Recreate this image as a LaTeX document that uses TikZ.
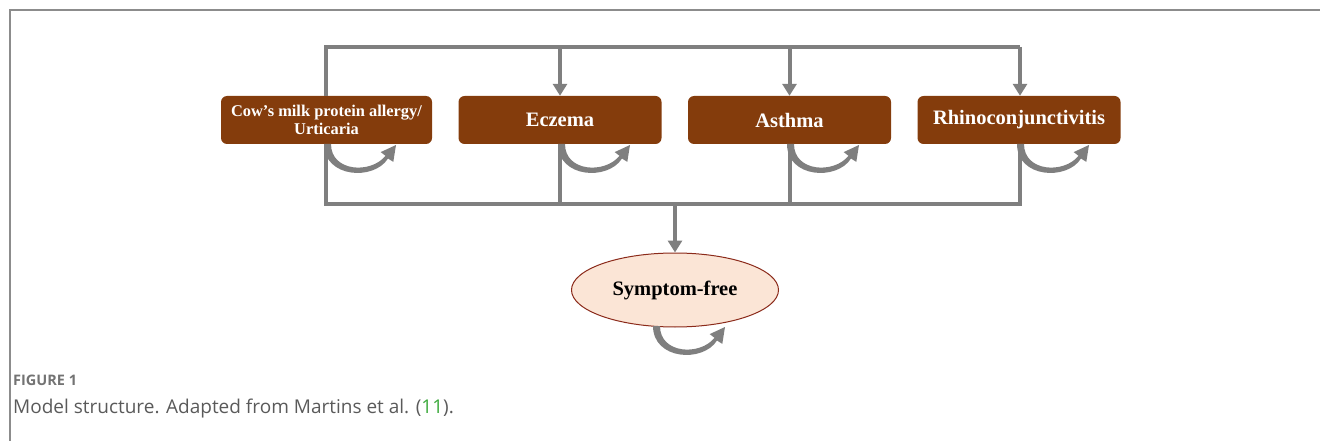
\documentclass[tikz,border=0pt]{standalone}
\usepackage{fontspec}
\setmainfont{Liberation Serif}
\newfontfamily\capfont{Open Sans}
\usetikzlibrary{arrows.meta,shapes.geometric}
\definecolor{boxbrown}{HTML}{843C0C}
\definecolor{linegray}{HTML}{7F7F7F}
\definecolor{ellfill}{HTML}{FBE5D6}
\definecolor{ellline}{HTML}{8B2A1A}
\definecolor{capgray}{HTML}{5A5A5A}
\definecolor{capgreen}{HTML}{3DAA3D}
\tikzset{
  statebox/.style={draw=none, fill=boxbrown, rounded corners=6pt, minimum width=203pt, minimum height=48pt,
    text=white, font=\bfseries\fontsize{20.5}{22}\selectfont, align=center, inner sep=0pt},
  conn/.style={draw=linegray, line width=4pt},
  connarrow/.style={conn, -{Triangle[width=14pt,length=12pt]}},
  loopshape/.style={fill=linegray, draw=none},
  pics/selfloop/.style={code={
    \path[loopshape] (0,0) .. controls (0,34) and (50,37) .. (64,14.5) -- (69.3,17.9) -- (72,1) -- (56.7,8.1) -- (61.5,11.8) .. controls (47,30) and (7,28) .. (7,0) -- cycle;
  }}
}
\begin{document}
\begin{tikzpicture}[x=1pt,y=-1pt]
\useasboundingbox (0,0) rectangle (1320,441);
% frame
\draw[linegray!90, line width=2pt] (10,441) -- (10,10) -- (1320,10);

% nodes
\node[statebox, minimum width=211pt, font=\bfseries\fontsize{16.4}{18}\selectfont] (cmpa) at (326.5,120) {Cow's milk protein allergy/\\Urticaria};
\node[statebox] (ecz) at (560,120) {Eczema};
\node[statebox] (ast) at (789.5,120) {Asthma};
\node[statebox] (rhi) at (1019,120) {Rhinoconjunctivitis};
\node[ellipse, draw=ellline, line width=1pt, fill=ellfill, minimum width=207pt, minimum height=74pt,
  font=\bfseries\fontsize{20.5}{22}\selectfont, inner sep=0pt] (sf) at (675,290) {Symptom-free};

% connector coordinates
\coordinate (tl) at (326,47);
\coordinate (tr) at (1020,47);
\coordinate (bl) at (326,204);
\coordinate (br) at (1020,204);
\coordinate (bm) at (675,204);

% top bus
\draw[conn] (cmpa.north -| tl) -- (tl) -- (tr);
\draw[connarrow] (tl -| ecz.north) -- (ecz.north);
\draw[connarrow] (tl -| ast.north) -- (ast.north);
\draw[connarrow] (tr) -- (rhi.north -| tr);
% bottom bus
\draw[conn] (cmpa.south -| bl) -- (bl) -- (br) -- (rhi.south -| br);
\draw[conn] (ecz.south) -- (ecz.south |- bl);
\draw[conn] (ast.south) -- (ast.south |- bl);
\draw[connarrow] (bm) -- (sf.north);

% self loops
\pic at (324,144) {selfloop};
\pic at (558,144) {selfloop};
\pic at (787,144) {selfloop};
\pic at (1017,144) {selfloop};
\pic at (653,326) {selfloop};

% caption
\node[anchor=base west, inner sep=0pt, text=capgray!85, font=\capfont\bfseries\fontsize{14.5}{16}\selectfont] (figlab) at (13,385) {FIGURE 1};
\node[anchor=base west, inner sep=0pt, text=capgray, font=\capfont\fontsize{19}{21}\selectfont] (cap) at (13,413) {Model structure. Adapted from Martins et al. (\textcolor{capgreen}{11}).};
\end{tikzpicture}
\end{document}
